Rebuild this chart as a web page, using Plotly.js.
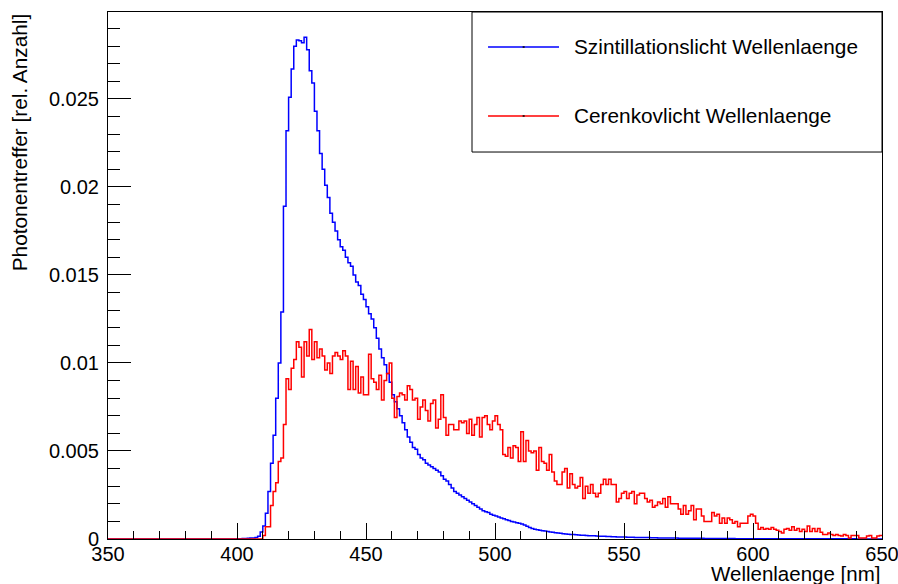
<!DOCTYPE html>
<html>
<head>
<meta charset="utf-8">
<script src="https://cdn.plot.ly/plotly-3.0.1.min.js"></script>
<style>
html,body{margin:0;padding:0;background:#fff;}
#chart{width:898px;height:584px;}
</style>
</head>
<body>
<div id="chart"></div>
<script>
// Histogram binning: 300 bins of 1 nm from 350 nm to 650 nm
const binStart = 350;
const binWidth = 1;

const seriesNames = ["Szintillationslicht Wellenlaenge", "Cerenkovlicht Wellenlaenge"];
const seriesColors = ["#0000ff", "#ff0000"];

// Scintillation light spectrum (bins 350..649)
const scintillation = [
  0,0,0,0,0,0,0,0,0,0,
  0,0,0,0,0,0,0,0,0,0,
  0,0,0,0,0,0,0,0,0,0,
  0,0,0,0,0,0,0,0,0,0,
  0,0,0,0,0,0,0,0,0,0,
  0.00002,0.00002,0.00003,0.00003,0.00004,0.00005,0.00006,0.00008,0.00015,0.0004,
  0.00074,0.00146,0.0027,0.0043,0.0059,0.0080,0.0100,0.0129,0.0189,0.0232,
  0.0251,0.0267,0.0280,0.02835,0.0283,0.0282,0.0285,0.0278,0.0266,0.0259,
  0.0243,0.0232,0.0219,0.0210,0.0201,0.0194,0.0185,0.0180,0.0175,0.0170,
  0.0166,0.0164,0.0160,0.0157,0.0155,0.0150,0.0146,0.0144,0.0139,0.0136,
  0.0132,0.0128,0.0125,0.0120,0.0114,0.0108,0.0103,0.0099,0.0094,0.0089,
  0.0082,0.0078,0.0074,0.0070,0.0066,0.0062,0.0058,0.0055,0.0052,0.0051,
  0.0048,0.0046,0.0045,0.0043,0.0042,0.0041,0.0040,0.0039,0.0038,0.0036,
  0.0034,0.0033,0.0031,0.0029,0.0027,0.0026,0.0025,0.0024,0.0023,0.0022,
  0.0021,0.0020,0.0019,0.0018,0.0017,0.0016,0.00155,0.0015,0.0014,0.00135,
  0.0013,0.00125,0.0012,0.00115,0.0011,0.00105,0.0010,0.00097,0.00093,0.0009,
  0.00085,0.0008,0.00072,0.00066,0.0006,0.00056,0.00053,0.0005,0.00047,0.00045,
  0.00042,0.0004,0.00038,0.00036,0.00034,0.00032,0.0003,0.00029,0.00027,0.00026,
  0.00025,0.00024,0.00023,0.00022,0.00021,0.0002,0.00019,0.00018,0.00018,0.00017,
  0.00016,0.00015,0.00015,0.00014,0.00014,0.00013,0.00013,0.00012,0.00012,0.00011,
  0.00011,0.0001,0.0001,0.0001,0.00009,0.00009,0.00009,0.00008,0.00008,0.00008,
  0.00007,0.00007,0.00007,0.00006,0.00006,0.00006,0.00006,0.00005,0.00005,0.00005,
  0.00005,0.00004,0.00004,0.00004,0.00004,0.00004,0.00004,0.00004,0.00004,0.00004,
  0.00004,0.00003,0.00003,0.00003,0.00003,0.00003,0.00003,0.00003,0.00003,0.00003,
  0.00003,0.00003,0.00003,0.00002,0.00002,0.00002,0.00002,0.00002,0.00002,0.00002,
  0.00002,0.00002,0.00002,0.00002,0.00002,0.00002,0.00002,0.00002,0.00002,0.00002,
  0.00002,0.00002,0.00002,0.00002,0.00001,0.00001,0.00001,0.00001,0.00001,0.00001,
  0.00001,0.00001,0.00001,0.00001,0.00001,0.00001,0.00001,0.00001,0.00001,0.00001,
  0.00001,0.00001,0.00001,0.00001,0.00001,0.00001,0.00001,0.00001,0.00001,0.00001,
  0,0,0,0,0,0,0,0,0,0
];

// Cherenkov light spectrum (bins 350..649)
const cerenkov = [
  0,0,0,0,0,0,0,0,0,0,
  0,0,0,0,0,0,0,0,0,0,
  0,0,0,0,0,0,0,0,0,0,
  0,0,0,0,0,0,0,0,0,0,
  0,0,0,0,0,0,0,0,0,0,
  0,0,0,0,0,0,0,0,0,0,
  0.0002,0.0007,0.0007,0.0019,0.0027,0.0032,0.0044,0.0046,0.0065,0.0091,
  0.0085,0.0097,0.0102,0.0112,0.0109,0.0092,0.0112,0.0104,0.0119,0.0102,
  0.0112,0.0103,0.0108,0.0104,0.0096,0.0100,0.0094,0.0104,0.0106,0.0104,
  0.0102,0.0107,0.0104,0.0085,0.0101,0.0085,0.0098,0.0083,0.0092,0.0082,
  0.0082,0.0105,0.0091,0.0089,0.0085,0.0093,0.0079,0.0090,0.0094,0.0100,
  0.0080,0.0069,0.0081,0.0083,0.0082,0.0079,0.0087,0.0085,0.0079,0.0080,
  0.0068,0.0075,0.0079,0.0073,0.0067,0.0077,0.0079,0.0063,0.0068,0.0082,
  0.0069,0.0059,0.0065,0.0065,0.0062,0.0062,0.0067,0.0066,0.0067,0.0060,
  0.0068,0.0059,0.0065,0.0069,0.0058,0.0069,0.0070,0.0065,0.0062,0.0067,
  0.0070,0.0065,0.0062,0.0048,0.0047,0.0052,0.0046,0.0053,0.0052,0.0044,
  0.0061,0.0044,0.0056,0.0050,0.0049,0.0050,0.0039,0.0052,0.0044,0.0043,
  0.0039,0.0048,0.0038,0.0033,0.0031,0.0031,0.0038,0.0040,0.0029,0.0037,
  0.0031,0.0029,0.0030,0.0035,0.0023,0.0030,0.0026,0.0031,0.0026,0.0024,
  0.0026,0.0031,0.0034,0.0031,0.0034,0.0031,0.0031,0.0021,0.0023,0.0026,
  0.0027,0.0023,0.0026,0.0027,0.0020,0.0025,0.0026,0.0026,0.0023,0.0021,
  0.0022,0.0018,0.0019,0.0021,0.0020,0.0023,0.0018,0.0024,0.0020,0.0020,
  0.0020,0.0017,0.0014,0.0019,0.0014,0.0016,0.0019,0.0011,0.0017,0.0017,
  0.0013,0.0010,0.0010,0.0010,0.0015,0.0013,0.0014,0.0009,0.0012,0.0009,
  0.0012,0.0011,0.0009,0.0010,0.0007,0.0009,0.0009,0.0009,0.0013,0.0014,
  0.0013,0.0009,0.00055,0.00066,0.00055,0.0006,0.00055,0.00066,0.00055,0.0005,
  0.00043,0.00034,0.00055,0.0006,0.0005,0.0007,0.0005,0.0006,0.00043,0.00055,
  0.00043,0.00074,0.00043,0.0006,0.00043,0.0006,0.00038,0.00025,0.00025,0.00034,
  0.00025,0.0002,0.00025,0.0002,0.00017,0.00025,0.0002,0.00006,0.0002,0.0002,
  0.0002,0.00006,0.00006,0.00006,0.00017,0.0002,0.00006,0.00006,0.00017,0.0002
];

const xTickVals = [350, 400, 450, 500, 550, 600, 650];
const yTickVals = [0, 0.005, 0.01, 0.015, 0.02, 0.025];
const yTickText = ["0", "0.005", "0.01", "0.015", "0.02", "0.025"];
const xRange = [350, 650];
const yRange = [0, 0.02994];
const xTitle = "Wellenlaenge [nm]";
const yTitle = "Photonentreffer [rel. Anzahl]";

// Build step-histogram traces: x = bin edges, y = bin contents (last repeated to close final bin)
function stepTrace(values, color, name) {
  const x = [], y = [];
  for (let i = 0; i < values.length; i++) {
    x.push(binStart + i * binWidth);
    y.push(values[i]);
  }
  x.push(binStart + values.length * binWidth);
  y.push(values[values.length - 1]);
  return {
    type: "scatter", mode: "lines", x: x, y: y, name: name,
    line: {shape: "hv", color: color, width: 1.5},
    showlegend: false, hoverinfo: "skip"
  };
}

const traces = [
  stepTrace(scintillation, seriesColors[0], seriesNames[0]),
  stepTrace(cerenkov, seriesColors[1], seriesNames[1])
];

const FONT = "Liberation Sans, Arial, Helvetica, sans-serif";

// Manual ROOT-style legend (paper coordinates)
const legX0 = 0.4703, legX1 = 1.0, legY0 = 0.7343, legY1 = 1.0;
const legRows = [0.9336, 0.8027];
const shapes = [
  {type: "rect", xref: "paper", yref: "paper", x0: legX0, x1: legX1, y0: legY0, y1: legY1,
   line: {color: "#000", width: 1}, fillcolor: "#fff", layer: "above"}
];
const annotations = [];
seriesNames.forEach((nm, i) => {
  shapes.push({type: "line", xref: "paper", yref: "paper", x0: 0.491, x1: 0.5827,
    y0: legRows[i], y1: legRows[i], line: {color: seriesColors[i], width: 1.5}, layer: "above"});
  shapes.push({type: "line", xref: "paper", yref: "paper", x0: 0.5357, x1: 0.5383,
    y0: legRows[i], y1: legRows[i], line: {color: "#000", width: 1.5}, layer: "above"});
  annotations.push({xref: "paper", yref: "paper", x: 0.5995, y: legRows[i], xanchor: "left", yanchor: "middle",
    text: nm, showarrow: false, font: {family: FONT, size: 20.8, color: "#000"}});
});
annotations.push({xref: "paper", yref: "paper", x: 1.0, y: -0.066, xanchor: "right", yanchor: "middle",
  text: xTitle, showarrow: false, font: {family: FONT, size: 20.5, color: "#000"}});
annotations.push({xref: "paper", yref: "paper", x: -0.114, y: 1.0, xanchor: "center", yanchor: "top",
  text: yTitle, textangle: -90, showarrow: false, font: {family: FONT, size: 20.8, color: "#000"}});

const layout = {
  width: 898, height: 584,
  margin: {l: 108, r: 16, t: 12, b: 45, pad: 0},
  paper_bgcolor: "#fff", plot_bgcolor: "#fff",
  font: {family: FONT, size: 20, color: "#000"},
  showlegend: false,
  xaxis: {
    range: xRange, tickvals: xTickVals, ticks: "inside", ticklen: 16, tickwidth: 1, tickcolor: "#000",
    showgrid: false, zeroline: false, showline: true, linecolor: "#000", linewidth: 1, mirror: true,
    tickfont: {family: FONT, size: 20, color: "#000"}, ticklabeloverflow: "allow", ticklabelstandoff: -3,
    minor: {dtick: 10, ticks: "inside", ticklen: 8, tickwidth: 1, tickcolor: "#000", showgrid: false}
  },
  yaxis: {
    range: yRange, tickvals: yTickVals, ticktext: yTickText, ticks: "inside", ticklen: 23, tickwidth: 1, tickcolor: "#000",
    showgrid: false, zeroline: false, showline: true, linecolor: "#000", linewidth: 1, mirror: true,
    tickfont: {family: FONT, size: 20, color: "#000"}, ticklabelstandoff: 4,
    minor: {dtick: 0.001, ticks: "inside", ticklen: 12, tickwidth: 1, tickcolor: "#000", showgrid: false}
  },
  shapes: shapes,
  annotations: annotations
};

Plotly.newPlot("chart", traces, layout, {staticPlot: true, displayModeBar: false});
</script>
</body>
</html>
